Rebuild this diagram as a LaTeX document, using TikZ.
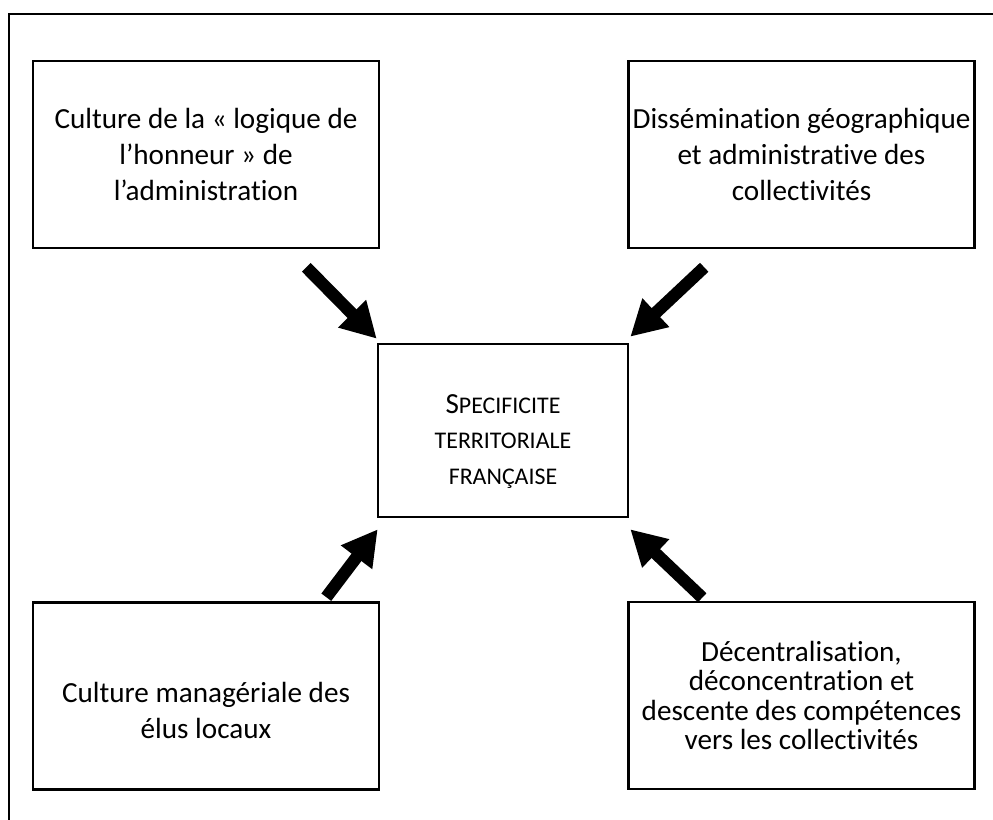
\documentclass[tikz,border=0pt]{standalone}
\usepackage{fontspec}
\setmainfont{Carlito}[Ligatures=NoCommon]
\usetikzlibrary{arrows.meta,calc}

% t + i without the Carlito ligature
\newcommand{\tI}{t\kern0pt i}

\tikzset{
  box/.style={draw=black, line width=1.5pt, minimum width=6.92cm, minimum height=3.74cm,
    align=center, inner sep=0pt, font=\fontsize{16.6}{20.3}\selectfont},
  bigarrow/.style={line width=7pt, -{Triangle[length=20pt,width=21pt]}}
}

\begin{document}
\begin{tikzpicture}[x=0.02cm,y=-0.02cm]
\useasboundingbox (0,0) rectangle (993,820);
% Frame
\draw [line width=1.5pt] (9,820) -- (9,14) -- (993,14);
% Boxes
\node [box] (honneur) at (206,154.5) {Culture de la «~logique de\\l’honneur~» de\\l’administra\tI on};
\node [box] (dissem) at (801.5,154.5) {Dissémina\tI on géographique\\et administra\tI ve des\\collec\tI vités};
\node [box] (manag) at (206,696) {\rule{0pt}{28pt}Culture managériale des\\élus locaux};
\node [box, font=\fontsize{16.6}{16.8}\selectfont] (decentr) at (801.5,695.5) {Décentralisa\tI on,\\déconcentra\tI on et\\descente des compétences\\vers les collec\tI vités};
% Center
\node [box, minimum width=5cm, minimum height=3.46cm, font=\fontsize{13.6}{20.3}\selectfont] (specif) at (503,430.5)
  {\rule{0pt}{23pt}{\fontsize{16.6}{20.3}\selectfont S}PECIFICITE\\TERRITORIALE\\FRANÇAISE};
% Arrows
\draw [bigarrow] ($(honneur.south east)+(-74,18)$) -- ($(specif.north west)+(0,-4)$);
\draw [bigarrow] ($(dissem.south west)+(77,18)$) -- ($(specif.north east)+(1,-6)$);
\draw [bigarrow] ($(manag.north east)+(-54,-4)$) -- ($(specif.south west)+(1,11)$);
\draw [bigarrow] ($(decentr.north west)+(75,-3)$) -- ($(specif.south east)+(1,11)$);
\end{tikzpicture}
\end{document}
